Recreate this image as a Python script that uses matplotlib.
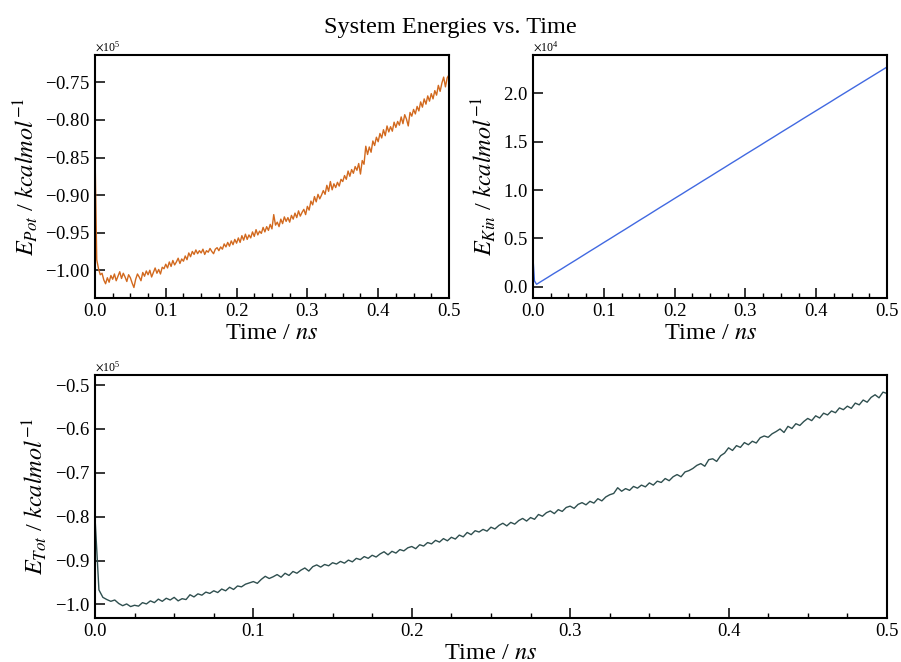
import numpy as np
import matplotlib
matplotlib.use("Agg")
import matplotlib.pyplot as plt
from matplotlib.ticker import MultipleLocator

plt.rcParams['font.family'] = ['Liberation Serif', 'DejaVu Serif']
plt.rcParams['mathtext.fontset'] = 'stix'

# time grid of the potential / total energy traces (ns)
t = np.linspace(0.0, 0.5, 201)

# potential energy, 10^3 kcal/mol
e_pot = [
    -84.0, -98.6, -99.8, -100.6, -100.4, -101.3, -101.8, -101.0, -101.6, -100.7,
    -101.2, -100.5, -101.4, -100.8, -100.2, -101.1, -100.4, -100.9, -101.5, -100.6,
    -101.0, -101.7, -102.3, -101.2, -100.5, -100.9, -101.4, -100.3, -100.8, -100.1,
    -100.6, -100.0, -100.9, -100.3, -99.7, -100.4, -99.9, -100.5, -99.6, -99.8,
    -99.2, -99.7, -98.9, -99.5, -98.7, -99.3, -98.9, -98.4, -99.1, -98.5,
    -98.8, -98.1, -98.6, -97.7, -98.2, -97.5, -97.9, -97.3, -97.8, -97.4,
    -97.7, -97.2, -97.9, -97.4, -97.6, -97.1, -97.5, -97.8, -97.2, -97.0,
    -97.4, -96.9, -97.2, -96.5, -96.9, -96.3, -96.8, -96.1, -96.6, -95.9,
    -96.4, -95.7, -96.3, -95.4, -96.0, -95.2, -95.9, -95.3, -95.7, -94.9,
    -95.5, -94.6, -95.3, -94.8, -95.1, -94.3, -94.9, -94.2, -94.7, -93.9,
    -94.5, -92.6, -94.0, -93.6, -94.2, -93.2, -93.8, -92.9, -93.5, -93.0,
    -93.6, -92.7, -93.2, -92.4, -93.0, -92.1, -92.8, -92.3, -91.9, -92.6,
    -91.5, -92.0, -90.8, -91.3, -90.2, -90.9, -89.9, -90.5, -90.0, -89.4,
    -89.9, -88.7, -89.5, -88.2, -89.3, -88.5, -89.0, -88.3, -88.8, -87.9,
    -88.2, -87.4, -87.9, -86.8, -87.5, -86.6, -87.1, -86.2, -86.7, -85.8,
    -87.2, -85.4, -85.9, -83.5, -84.6, -83.6, -84.3, -82.8, -83.4, -82.3,
    -82.9, -81.8, -82.4, -81.3, -82.1, -80.8, -81.6, -80.9, -81.5, -80.3,
    -81.0, -80.2, -80.7, -79.6, -80.5, -79.3, -79.9, -80.8, -79.0, -79.5,
    -78.6, -79.2, -78.2, -78.8, -77.6, -78.3, -77.2, -77.9, -76.8, -77.5,
    -76.5, -77.2, -76.1, -76.7, -75.4, -76.2, -75.1, -74.3, -75.6, -74.4,
    -74.0,
]

# total energy, 10^3 kcal/mol
e_tot = [
    -80.0, -96.7, -98.4, -98.9, -99.3, -99.0, -99.8, -100.3, -99.9, -100.5,
    -100.2, -100.4, -99.6, -99.9, -99.2, -99.6, -98.8, -99.3, -98.6, -99.0,
    -98.4, -99.2, -98.7, -98.9, -97.8, -98.3, -97.6, -97.9, -97.2, -97.5,
    -96.9, -97.3, -96.5, -96.9, -96.1, -96.6, -95.8, -96.0, -95.4, -95.1,
    -94.8, -95.2, -94.3, -93.6, -94.1, -93.7, -93.2, -93.8, -92.9, -93.4,
    -92.5, -92.9, -92.2, -91.7, -92.4, -91.4, -91.0, -91.5, -90.9, -91.2,
    -90.5, -90.8, -90.2, -90.6, -89.9, -90.3, -89.5, -89.8, -89.1, -89.5,
    -88.8, -89.2, -88.5, -88.0, -88.7, -87.9, -88.3, -87.5, -87.8, -87.1,
    -86.8, -87.3, -86.4, -86.7, -85.9, -86.2, -85.4, -85.8, -85.0, -85.5,
    -84.7, -85.1, -84.2, -84.6, -83.6, -84.1, -83.2, -83.5, -82.9, -83.3,
    -82.4, -82.8, -82.0, -81.5, -82.1, -81.3, -81.7, -80.9, -80.4, -81.0,
    -80.2, -80.6, -79.5, -79.9, -79.1, -78.7, -79.3, -78.4, -78.8, -77.9,
    -77.6, -78.1, -77.2, -76.8, -77.3, -76.5, -76.9, -75.9, -76.4, -75.5,
    -75.0, -74.7, -73.4, -74.2, -73.6, -74.0, -73.1, -73.5, -72.8, -73.2,
    -72.3, -72.8, -71.9, -72.2, -71.3, -71.8, -70.9, -70.4, -70.9, -69.8,
    -69.5, -69.0, -68.3, -67.9, -68.5, -67.0, -66.8, -67.4, -66.1, -65.5,
    -64.3, -64.9, -63.8, -64.2, -63.1, -63.6, -62.8, -63.2, -62.0, -61.6,
    -61.9, -61.1, -60.6, -60.0, -60.8, -59.4, -59.9, -58.8, -59.2, -58.3,
    -57.6, -58.1, -57.0, -57.5, -56.4, -56.8, -55.9, -56.3, -55.2, -55.6,
    -54.8, -55.3, -54.1, -54.5, -53.4, -53.9, -52.8, -52.2, -52.9, -51.6,
    -51.9,
]

# kinetic energy, 10^3 kcal/mol
t_kin = [0.0, 0.002, 0.005, 0.01, 0.02, 0.03, 0.04, 0.05, 0.06, 0.07, 0.08,
         0.09, 0.10, 0.11, 0.12, 0.13, 0.14, 0.15, 0.16, 0.17, 0.18, 0.19,
         0.20, 0.21, 0.22, 0.23, 0.24, 0.25, 0.26, 0.27, 0.28, 0.29, 0.30,
         0.31, 0.32, 0.33, 0.34, 0.35, 0.36, 0.37, 0.38, 0.39, 0.40, 0.41,
         0.42, 0.43, 0.44, 0.45, 0.46, 0.47, 0.48, 0.49, 0.50]
e_kin = [2.9, 0.6, 0.25, 0.48, 0.93, 1.39, 1.83, 2.29, 2.74, 3.20, 3.66,
         4.11, 4.57, 5.02, 5.48, 5.93, 6.39, 6.85, 7.30, 7.76, 8.22, 8.67,
         9.13, 9.58, 10.04, 10.49, 10.95, 11.40, 11.86, 12.31, 12.77, 13.22, 13.68,
         14.13, 14.58, 15.04, 15.49, 15.95, 16.40, 16.85, 17.31, 17.76, 18.21, 18.66,
         19.11, 19.57, 20.02, 20.47, 20.92, 21.37, 21.82, 22.27, 22.72]


def style_axis(ax, ystep):
    ax.set_xlim(0, 0.5)
    ax.xaxis.set_major_locator(MultipleLocator(0.1))
    ax.xaxis.set_minor_locator(MultipleLocator(0.025))
    ax.yaxis.set_major_locator(MultipleLocator(ystep))
    ax.tick_params(which='major', direction='in', length=7, width=1.1, labelsize=13.5)
    ax.tick_params(which='minor', direction='in', length=3.6, width=1.0)
    ax.tick_params(axis='y', which='minor', left=False)
    ax.ticklabel_format(axis='y', style='sci', scilimits=(0, 0), useMathText=True)
    ax.yaxis.get_offset_text().set_fontsize(8.5)
    for sp in ax.spines.values():
        sp.set_linewidth(1.5)
    ax.set_xlabel('Time / $ns$', fontsize=17.5, labelpad=2)


fig = plt.figure(figsize=(9.01, 6.62), dpi=100)
fig.suptitle('System Energies vs. Time', fontsize=17.5, y=0.975)

ax1 = fig.add_axes([0.1054, 0.5498, 0.3929, 0.3671])
ax1.plot(t, np.array(e_pot) * 1e3, color='#d2691e', lw=1.0)
style_axis(ax1, 5000)
ax1.set_ylim(-103700, -71360)
ax1.set_ylabel(r'$E_{Pot}$ / $kcal mol^{-1}$', fontsize=17.5)

ax2 = fig.add_axes([0.5916, 0.5498, 0.3929, 0.3671])
ax2.plot(t_kin, np.array(e_kin) * 1e3, color='#4169e1', lw=1.0)
style_axis(ax2, 5000)
ax2.set_ylim(-1170, 23960)
ax2.set_ylabel(r'$E_{Kin}$ / $kcal mol^{-1}$', fontsize=17.5)

ax3 = fig.add_axes([0.1054, 0.0665, 0.879, 0.367])
ax3.plot(t, np.array(e_tot) * 1e3, color='#2f4f4f', lw=1.0)
style_axis(ax3, 10000)
ax3.set_ylim(-103100, -47700)
ax3.set_ylabel(r'$E_{Tot}$ / $kcal mol^{-1}$', fontsize=17.5)

fig.savefig('out.png', dpi=100)
